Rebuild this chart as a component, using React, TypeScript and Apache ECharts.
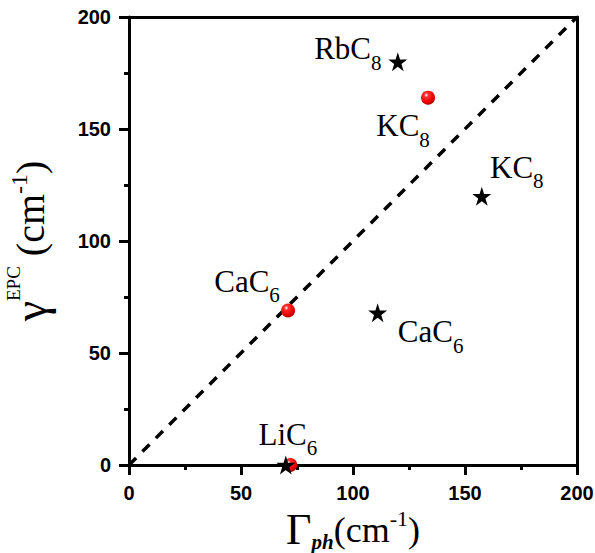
import React, { useEffect, useRef } from "react";
import * as echarts from "echarts";

// ---- data ----
const STAR_NAMES = ["RbC8", "KC8", "CaC6", "LiC6"];
const STAR_X = [120, 157.5, 111, 70];
const STAR_Y = [180, 120, 68, 0];

const BALL_NAMES = ["KC8", "CaC6", "LiC6"];
const BALL_X = [133.5, 71, 72];
const BALL_Y = [164, 69, 0];
const BALL_LABELED = [true, true, false];

const DIAG_X = [0, 200];
const DIAG_Y = [0, 200];

const AXIS_MIN = 0;
const AXIS_MAX = 200;
const AXIS_STEP = 50;

// label offsets (pixels, relative to the marker)
const STAR_LABEL_OFFSETS: number[][] = [
  [-50, -13],
  [35, -29],
  [53, 19],
  [2, -31],
];
const BALL_LABEL_OFFSETS: number[][] = [
  [-25, 28],
  [-41, -29],
  [0, 0],
];

const STAR_PATH =
  "path://M50,0 L61.2,34.5 L97.6,34.5 L68.2,55.9 L79.4,90.5 L50,69.1 L20.6,90.5 L31.8,55.9 L2.4,34.5 L38.8,34.5 Z";

const SERIF = "'Liberation Serif', 'Times New Roman', serif";
const SANS = "'Liberation Sans', Arial, sans-serif";

const noBorder = { textBorderWidth: 0, textBorderColor: "transparent", textShadowBlur: 0 };

const labelRich = {
  m: { fontSize: 31, fontFamily: SERIF, color: "#000", verticalAlign: "middle", ...noBorder },
  s: {
    fontSize: 21,
    fontFamily: SERIF,
    color: "#000",
    verticalAlign: "middle",
    padding: [28, 0, 0, 0],
    ...noBorder,
  },
};

const fmtName = (n: string) => `{m|${n.slice(0, -1)}}{s|${n.slice(-1)}}`;

export default function App() {
  const ref = useRef<HTMLDivElement>(null);
  useEffect(() => {
    if (!ref.current) return;
    const chart = echarts.init(ref.current, undefined, { renderer: "svg" });
    const black = "#000";
    const axisLineStyle = { color: black, width: 3 };
    const baseAxis = {
      type: "value" as const,
      min: AXIS_MIN,
      max: AXIS_MAX,
      interval: AXIS_STEP,
      splitLine: { show: false },
    };
    const mainAxisExtras = {
      axisLine: { show: true, onZero: false, lineStyle: axisLineStyle },
      axisTick: { show: true, inside: false, length: 10, lineStyle: { color: black, width: 3 } },
      minorTick: { show: true, splitNumber: 2, length: 5, lineStyle: { color: black, width: 3 } },
      axisLabel: {
        color: black,
        fontFamily: SANS,
        fontWeight: "bold",
        fontSize: 20,
        margin: 18,
      },
    };
    const mirrorAxisExtras = {
      axisLine: { show: true, onZero: false, lineStyle: axisLineStyle },
      axisTick: { show: false },
      axisLabel: { show: false },
    };

    const ballColor = {
      type: "radial",
      x: 0.38,
      y: 0.32,
      r: 0.7,
      colorStops: [
        { offset: 0, color: "#ffffff" },
        { offset: 0.22, color: "#ff3030" },
        { offset: 0.7, color: "#ee0000" },
        { offset: 1, color: "#b00000" },
      ],
    };

    const labelBase = {
      position: ["50%", "50%"],
      align: "center",
      verticalAlign: "middle",
      color: black,
      ...noBorder,
      formatter: (p: any) => fmtName(p.name),
      rich: labelRich,
    };

    const option: any = {
      animation: false,
      backgroundColor: "#fff",
      grid: { left: 129, right: 18, top: 17, bottom: 88, outerBoundsMode: "none", containLabel: false },
      xAxis: [
        {
          ...baseAxis,
          ...mainAxisExtras,
          position: "bottom",
          name: "{G|Γ}{sub|ph}{m|(cm}{sup|-1}{m|)}",
          nameLocation: "middle",
          nameGap: 31,
          nameTextStyle: {
            rich: {
              G: { fontSize: 44, fontFamily: SERIF, color: black, verticalAlign: "middle" },
              m: { fontSize: 36, fontFamily: SERIF, color: black, verticalAlign: "middle" },
              sub: {
                fontSize: 21,
                fontFamily: SERIF,
                fontStyle: "italic",
                fontWeight: "bold",
                color: black,
                verticalAlign: "middle",
                padding: [24, 0, 0, 0],
              },
              sup: {
                fontSize: 22,
                fontFamily: SERIF,
                color: black,
                verticalAlign: "middle",
                padding: [0, 0, 22, 0],
              },
            },
          },
        },
        { ...baseAxis, ...mirrorAxisExtras, position: "top" },
      ],
      yAxis: [
        {
          ...baseAxis,
          ...mainAxisExtras,
          position: "left",
          name: "{g|γ}{sup|EPC}{m| (cm}{sup2|-1}{m|)}",
          nameLocation: "middle",
          nameRotate: 90,
          nameGap: 72,
          nameTextStyle: {
            rich: {
              g: { fontSize: 46, fontFamily: SERIF, color: black, verticalAlign: "middle" },
              m: { fontSize: 40, fontFamily: SERIF, color: black, verticalAlign: "middle" },
              sup: {
                fontSize: 19,
                fontFamily: SERIF,
                color: black,
                verticalAlign: "middle",
                padding: [0, 0, 34, 0],
              },
              sup2: {
                fontSize: 24,
                fontFamily: SERIF,
                color: black,
                verticalAlign: "middle",
                padding: [0, 0, 24, 0],
              },
            },
          },
        },
        { ...baseAxis, ...mirrorAxisExtras, position: "right" },
      ],
      series: [
        {
          type: "line",
          data: DIAG_X.map((x, i) => [x, DIAG_Y[i]]),
          symbol: "none",
          silent: true,
          lineStyle: { color: black, width: 3.5, type: [10, 9] },
          z: 1,
        },
        {
          type: "scatter",
          data: BALL_X.map((x, i) => ({
            value: [x, BALL_Y[i]],
            name: BALL_NAMES[i],
            label: { show: BALL_LABELED[i], offset: BALL_LABEL_OFFSETS[i] },
          })),
          symbol: "circle",
          symbolSize: 14,
          itemStyle: { color: ballColor, opacity: 1 },
          label: labelBase,
          z: 3,
        },
        {
          type: "scatter",
          data: STAR_X.map((x, i) => ({
            value: [x, STAR_Y[i]],
            name: STAR_NAMES[i],
            label: { show: true, offset: STAR_LABEL_OFFSETS[i] },
          })),
          symbol: STAR_PATH,
          symbolSize: 19,
          itemStyle: { color: black, opacity: 1 },
          label: labelBase,
          z: 4,
        },
      ],
    };
    chart.setOption(option);
    return () => chart.dispose();
  }, []);
  return <div ref={ref} style={{ width: 595, height: 553, position: "absolute", left: 0, top: 0 }} />;
}
